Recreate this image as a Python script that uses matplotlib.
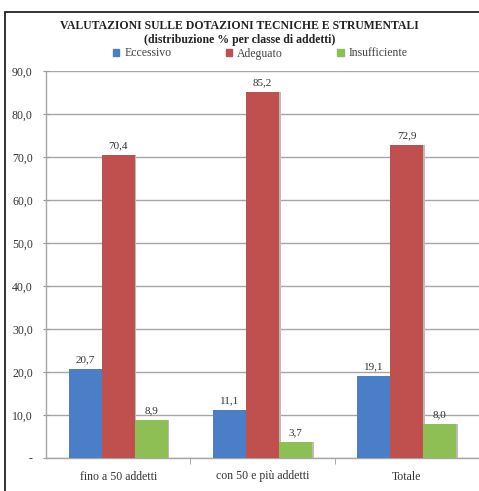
import matplotlib
matplotlib.use("Agg")
import matplotlib.pyplot as plt
import numpy as np
from matplotlib.patches import Rectangle

categories = ["fino a 50 addetti", "con 50 e più addetti", "Totale"]
series_names = ["Eccessivo", "Adeguato", "Insufficiente"]
eccessivo = [20.7, 11.1, 19.1]
adeguato = [70.4, 85.2, 72.9]
insufficiente = [8.9, 3.7, 8.0]
yticks = [0, 10, 20, 30, 40, 50, 60, 70, 80, 90]
ytick_labels = ["-", "10,0", "20,0", "30,0", "40,0", "50,0", "60,0", "70,0", "80,0", "90,0"]
colors = ["#4A7EC6", "#C0504D", "#8DBF55"]
title = "VALUTAZIONI SULLE DOTAZIONI TECNICHE E STRUMENTALI\n(distribuzione % per classe di addetti)"

plt.rcParams['font.family'] = ['Liberation Serif', 'DejaVu Serif']

W, H = 479, 491
fig = plt.figure(figsize=(W / 100, H / 100), dpi=100)
fig.patch.set_facecolor("white")

# outer frame
fig.add_artist(Rectangle((5 / W, -0.1), 1.2, 1 - 12 / H + 0.1, transform=fig.transFigure,
                         fill=False, edgecolor="#222222", linewidth=1.3))

ax = fig.add_axes([46 / W, 1 - 458 / H, (479 - 46) / W, (458 - 71) / H])
x = np.arange(len(categories))
bw = 0.229
series = [eccessivo, adeguato, insufficiente]
for i, (vals, c, name) in enumerate(zip(series, colors, series_names)):
    pos = x + (i - 1) * bw
    # subtle shadow
    ax.bar(pos + 0.012, vals, bw, color="#BBBBBB", zorder=2, linewidth=0)
    ax.bar(pos, vals, bw, color=c, label=name, zorder=3, linewidth=0)
    for p, v in zip(pos, vals):
        ax.text(p, v + 1.1, f"{v:.1f}".replace(".", ","), ha="center", va="bottom",
                fontsize=8, color="#333333", zorder=4)

ax.set_xlim(-0.5, 2.5)
ax.set_ylim(0, 90)
ax.set_yticks(yticks)
ax.set_yticklabels(ytick_labels, fontsize=8.5, color="#333333")
ax.yaxis.grid(True, color="#A6A6A6", linewidth=1.0, zorder=0)
ax.set_axisbelow(True)
ax.set_xticks(x)
ax.set_xticklabels(categories, fontsize=8.5, color="#333333")
ax.tick_params(axis="x", length=0, pad=9)
ax.set_xticks([0.5, 1.5], minor=True)
ax.tick_params(axis="x", which="minor", length=4, color="#999999")
ax.tick_params(axis="y", length=5, color="#999999", direction="inout", pad=7)
for s in ["top", "right"]:
    ax.spines[s].set_visible(False)
ax.spines["left"].set_color("#A6A6A6")
ax.spines["bottom"].set_color("#A6A6A6")
ax.spines["left"].set_linewidth(1.0)
ax.spines["bottom"].set_linewidth(1.0)

fig.text(0.5, 1 - 33 / H, title, ha="center", va="center", fontsize=8.5,
         fontweight="bold", color="#222222", linespacing=1.25)
handles = [Rectangle((0, 0), 1, 1, color=c) for c in colors]
fig.legend(handles, series_names, loc="center", bbox_to_anchor=(0.543, 1 - 53.5 / H),
           ncol=3, frameon=False, fontsize=8.5, handlelength=0.55, handleheight=0.55,
           columnspacing=4.6, handletextpad=0.4, labelcolor="#444444")

fig.savefig("out.png", dpi=100)
